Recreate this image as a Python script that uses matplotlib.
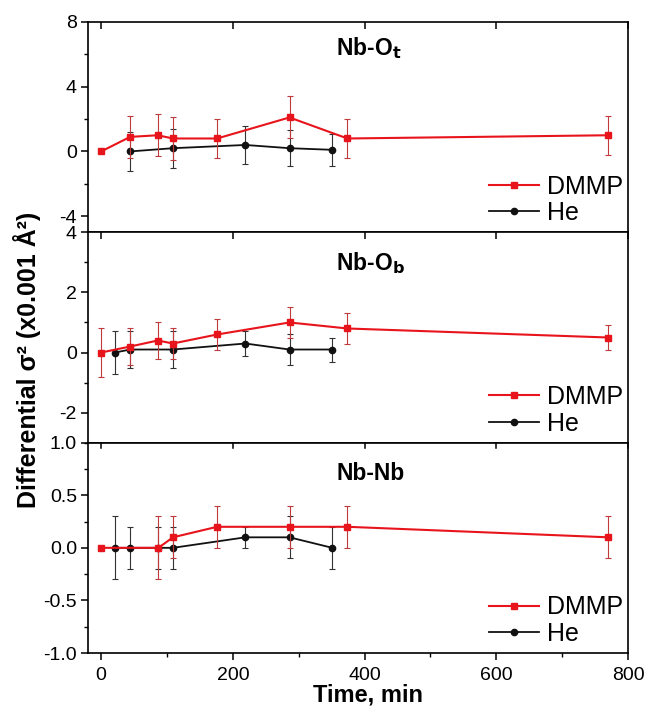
import matplotlib
matplotlib.use("Agg")
import matplotlib.pyplot as plt
from matplotlib.ticker import MultipleLocator
from matplotlib.lines import Line2D

plt.rcParams['font.family'] = ['Liberation Sans', 'DejaVu Sans']
plt.rcParams['axes.unicode_minus'] = False

# ---- data ----
titles = ['Nb-O$_\\mathbf{t}$', 'Nb-O$_\\mathbf{b}$', 'Nb-Nb']

dmmp_t1 = [0, 44, 86, 109, 176, 286, 374, 770]
dmmp_y1 = [0, 0.9, 1.0, 0.8, 0.8, 2.1, 0.8, 1.0]
dmmp_e1 = [0, 1.3, 1.3, 1.3, 1.2, 1.3, 1.2, 1.2]
he_t1 = [44, 109, 219, 286, 351]
he_y1 = [0, 0.2, 0.4, 0.2, 0.1]
he_e1 = [1.2, 1.2, 1.2, 1.1, 1.0]

dmmp_t2 = [0, 44, 86, 109, 176, 286, 374, 770]
dmmp_y2 = [0, 0.2, 0.4, 0.3, 0.6, 1.0, 0.8, 0.5]
dmmp_e2 = [0.8, 0.6, 0.6, 0.5, 0.5, 0.5, 0.5, 0.4]
he_t2 = [21, 44, 109, 219, 286, 351]
he_y2 = [0, 0.1, 0.1, 0.3, 0.1, 0.1]
he_e2 = [0.7, 0.6, 0.6, 0.4, 0.5, 0.4]

dmmp_t3 = [0, 87, 109, 176, 286, 374, 770]
dmmp_y3 = [0, 0, 0.1, 0.2, 0.2, 0.2, 0.1]
dmmp_e3 = [0, 0.3, 0.2, 0.2, 0.2, 0.2, 0.2]
he_t3 = [21, 44, 87, 109, 219, 286, 351]
he_y3 = [0, 0, 0, 0, 0.1, 0.1, 0]
he_e3 = [0.3, 0.2, 0.2, 0.2, 0.1, 0.2, 0.2]

series_labels = ['DMMP', 'He']
ylims = [(-5, 8), (-3, 4), (-1, 1)]
ymajor = [4, 2, 0.5]
yminor = [2, 1, 0.25]
xticks = [0, 200, 400, 600, 800]

panels = [
    (dmmp_t1, dmmp_y1, dmmp_e1, he_t1, he_y1, he_e1),
    (dmmp_t2, dmmp_y2, dmmp_e2, he_t2, he_y2, he_e2),
    (dmmp_t3, dmmp_y3, dmmp_e3, he_t3, he_y3, he_e3),
]

RED = '#e8141c'
RED_ERR = '#c0393b'
BLK = '#111111'
BLK_ERR = '#333333'

fig = plt.figure(figsize=(6.45, 7.08), dpi=100)
left, right = 88 / 645, 628 / 645
top, bottom = 1 - 22 / 708, 1 - 653 / 708
h = (top - bottom) / 3

title_y = [0.878, 0.852, 0.852]

axes = []
for i, (dt, dy, de, ht, hy, he) in enumerate(panels):
    ax = fig.add_axes([left, top - (i + 1) * h, right - left, h])
    axes.append(ax)
    ax.errorbar(ht, hy, yerr=he, color=BLK, ecolor=BLK_ERR, elinewidth=0.8,
                capsize=2.2, capthick=0.8, lw=1.3, marker='o', ms=4.5, zorder=2)
    ax.errorbar(dt, dy, yerr=de, color=RED, ecolor=RED_ERR, elinewidth=0.8,
                capsize=2.2, capthick=0.8, lw=1.5, marker='s', ms=4.8, zorder=3)
    ax.set_xlim(-20, 800)
    ax.set_ylim(*ylims[i])
    ax.yaxis.set_major_locator(MultipleLocator(ymajor[i]))
    ax.yaxis.set_minor_locator(MultipleLocator(yminor[i]))
    ax.set_xticks(xticks)
    ax.xaxis.set_minor_locator(MultipleLocator(100))
    for s in ax.spines.values():
        s.set_linewidth(1.2)
    ax.tick_params(axis='y', which='major', direction='out', length=5, width=1.1,
                   labelsize=14, pad=3)
    ax.tick_params(axis='y', which='minor', direction='out', length=3, width=1.0)
    if i < 2:
        ax.tick_params(axis='x', which='major', top=True, bottom=False,
                       direction='in', length=5, width=1.1, labelbottom=False)
        ax.tick_params(axis='x', which='minor', top=False, bottom=False)
    else:
        ax.tick_params(axis='x', which='major', top=False, bottom=True,
                       direction='out', length=5, width=1.1, labelsize=14, pad=5)
        ax.tick_params(axis='x', which='minor', top=False, bottom=True,
                       direction='out', length=3, width=1.0)
        # inward top ticks for the bottom panel
        for t in xticks:
            ax.plot([t, t], [1.0, 0.975], transform=ax.get_xaxis_transform(),
                    color='black', lw=1.1, clip_on=False, zorder=5)
    ax.text(0.46, title_y[i], titles[i], transform=ax.transAxes, ha='left',
            va='center', fontsize=16.5, fontweight='bold')
    handles = [Line2D([], [], color=RED, lw=1.5, marker='s', ms=4.8),
               Line2D([], [], color=BLK, lw=1.3, marker='o', ms=4.5)]
    ax.legend(handles, series_labels, loc='lower right', frameon=False,
              fontsize=18, handlelength=2.0, handletextpad=0.3,
              labelspacing=0.1, borderaxespad=0.1, borderpad=0.1,
              bbox_to_anchor=(1.0, 0.01))

fig.text(27.5 / 645, 1 - 359.5 / 708, 'Differential σ² (x0.001 Å²)', rotation=90,
         ha='center', va='center', fontsize=18, fontweight='bold')
fig.text(368 / 645, 1 - 695 / 708, 'Time, min', ha='center', va='center',
         fontsize=17, fontweight='bold')

fig.savefig('out.png', dpi=100)
